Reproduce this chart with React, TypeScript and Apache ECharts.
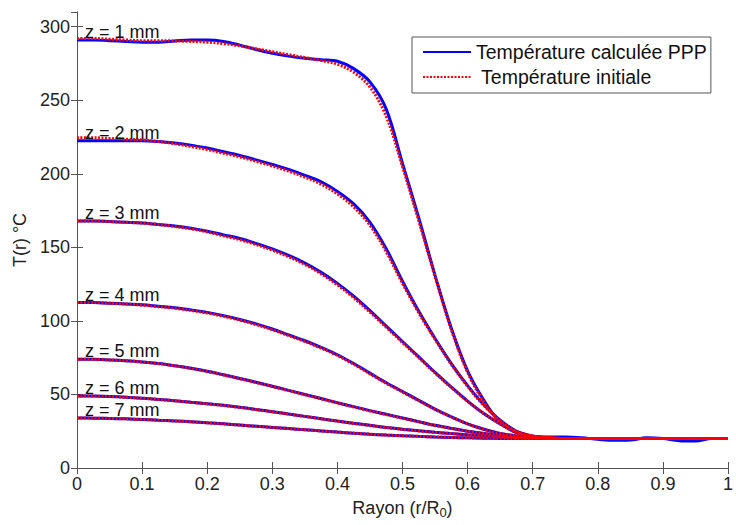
import React, { useEffect, useRef } from "react";
import * as echarts from "echarts";

const R = [0, 0.025, 0.05, 0.075, 0.1, 0.125, 0.15, 0.175, 0.2, 0.225, 0.25, 0.275, 0.3, 0.325, 0.35, 0.375, 0.4, 0.425, 0.45, 0.475, 0.5, 0.525, 0.55, 0.575, 0.6, 0.625, 0.65, 0.675, 0.7, 0.725, 0.75, 0.775, 0.8, 0.825, 0.85, 0.875, 0.9, 0.925, 0.95, 0.975, 1.0];

// Température calculée PPP (blue)
const B1 = [291, 291, 290.5, 290, 289.5, 289.5, 290.3, 291, 291, 290, 287.5, 284.5, 282, 280, 278.5, 277.5, 276.5, 271.5, 262.5, 244, 207, 170, 131, 95, 66, 46, 31, 24, 21.5, 21, 21, 20.5, 19.5, 18.8, 19, 20.5, 20, 18.5, 18.3, 20, 20];
const B2 = [222.5, 222.5, 222.5, 222.5, 222.5, 222, 221, 219.5, 217.5, 215, 212.5, 209.5, 206.3, 203, 199, 194.5, 188, 179.5, 167, 149, 127, 106.5, 88, 71, 56, 43, 32.5, 25, 21.8, 20.6, 20, 20, 20, 20, 20, 20, 20, 20, 20, 20, 20];
const B3 = [168, 168, 167.5, 167, 166.5, 165.5, 164.5, 163, 161, 158.5, 156, 152.7, 149, 144.5, 139.3, 133, 125.5, 116.8, 107, 96.5, 86, 75.5, 65, 55, 45.5, 37, 30, 24.5, 21.5, 20.5, 20, 20, 20, 20, 20, 20, 20, 20, 20, 20, 20];
const B4 = [112.5, 112.5, 112, 111.5, 111, 110, 109, 107.5, 105.8, 103.6, 101, 98, 94.5, 90.5, 86.5, 82, 77, 71, 64.5, 58, 52, 46, 40, 34.8, 30, 26.3, 23.5, 21.8, 20.9, 20.4, 20, 20, 20, 20, 20, 20, 20, 20, 20, 20, 20];
const B5 = [74, 73.9, 73.5, 72.9, 72.1, 71, 69.5, 67.8, 65.8, 63.4, 60.9, 58.3, 55.6, 52.8, 50, 47.2, 44.4, 41.7, 39, 36.5, 34, 31.5, 29, 26.9, 25, 23.5, 22.3, 21.4, 20.7, 20.3, 20, 20, 20, 20, 20, 20, 20, 20, 20, 20, 20];
const B6 = [49, 48.9, 48.6, 48.1, 47.4, 46.6, 45.7, 44.7, 43.7, 42.6, 41.3, 39.8, 38.3, 36.7, 35.1, 33.5, 31.9, 30.4, 29, 27.6, 26.4, 25.3, 24.3, 23.4, 22.6, 21.9, 21.3, 20.8, 20.4, 20.1, 20, 20, 20, 20, 20, 20, 20, 20, 20, 20, 20];
const B7 = [34, 33.9, 33.7, 33.4, 33, 32.5, 32, 31.4, 30.7, 30, 29.2, 28.4, 27.6, 26.8, 26, 25.2, 24.4, 23.7, 23, 22.4, 21.9, 21.5, 21.1, 20.8, 20.5, 20.3, 20.1, 20, 20, 20, 20, 20, 20, 20, 20, 20, 20, 20, 20, 20, 20];

// Température initiale (red dotted)
const I1 = [292, 292, 291.5, 291, 290.5, 290.5, 290.3, 290, 289.5, 288.5, 287, 285, 283, 281, 279, 277, 274.5, 269, 259, 239, 205, 168, 130, 94, 65, 45, 31, 24, 21.5, 20.5, 20, 20, 20, 20, 20, 20, 20, 20, 20, 20, 20];
const I2 = [224.5, 224.5, 224, 223.5, 223, 222, 220.5, 218.5, 216.5, 214, 211.5, 208.5, 205.3, 201.8, 197.7, 193, 186.3, 177.5, 165, 147, 125.5, 105.5, 87.5, 70.5, 55.5, 42.5, 32.3, 25, 21.8, 20.6, 20, 20, 20, 20, 20, 20, 20, 20, 20, 20, 20];
const I3 = [168, 168, 167.5, 167, 166.5, 165.5, 164.2, 162.6, 160.5, 157.8, 155.2, 151.9, 148.1, 143.6, 138.4, 132, 124.5, 115.8, 106, 95.7, 85.3, 75, 64.6, 54.7, 45.3, 36.9, 30, 24.5, 21.5, 20.5, 20, 20, 20, 20, 20, 20, 20, 20, 20, 20, 20];
const I4 = [112.5, 112.5, 112, 111.5, 110.7, 109.7, 108.6, 107.1, 105.4, 103.1, 100.5, 97.5, 94, 90, 86, 81.5, 76.5, 70.5, 64, 57.6, 51.6, 45.7, 39.8, 34.7, 30, 26.3, 23.5, 21.8, 20.9, 20.4, 20, 20, 20, 20, 20, 20, 20, 20, 20, 20, 20];
const I5 = [74, 73.9, 73.5, 72.9, 72.1, 71, 69.5, 67.7, 65.6, 63.2, 60.7, 58.1, 55.4, 52.6, 49.8, 47, 44.2, 41.5, 38.8, 36.3, 33.8, 31.4, 28.9, 26.9, 25, 23.5, 22.3, 21.4, 20.7, 20.3, 20, 20, 20, 20, 20, 20, 20, 20, 20, 20, 20];
const I6 = [49, 48.9, 48.6, 48.1, 47.4, 46.6, 45.7, 44.7, 43.6, 42.5, 41.2, 39.7, 38.2, 36.6, 35, 33.4, 31.8, 30.3, 28.9, 27.5, 26.3, 25.2, 24.2, 23.4, 22.6, 21.9, 21.3, 20.8, 20.4, 20.1, 20, 20, 20, 20, 20, 20, 20, 20, 20, 20, 20];
const I7 = [34, 33.9, 33.7, 33.4, 33, 32.5, 32, 31.4, 30.7, 30, 29.2, 28.4, 27.6, 26.8, 26, 25.2, 24.4, 23.7, 23, 22.4, 21.9, 21.5, 21.1, 20.8, 20.5, 20.3, 20.1, 20, 20, 20, 20, 20, 20, 20, 20, 20, 20, 20, 20, 20, 20];

const Z_LABELS = ["z = 1 mm", "z = 2 mm", "z = 3 mm", "z = 4 mm", "z = 5 mm", "z = 6 mm", "z = 7 mm"];
const CALC = "Température calculée PPP";
const INIT = "Température initiale";
const X_NAME = "Rayon (r/R{sub|0})";
const Y_NAME = "T(r) °C";

const BLUE = [B1, B2, B3, B4, B5, B6, B7];
const RED = [I1, I2, I3, I4, I5, I6, I7];

const FONT = '"Liberation Sans", Arial, Helvetica, sans-serif';
const AX = "#555";

export default function App() {
  const ref = useRef<HTMLDivElement>(null);
  useEffect(() => {
    if (!ref.current) return;
    const chart = echarts.init(ref.current, null, { renderer: "svg" });
    const pairs = (ys: number[]) => ys.map((y, i) => [R[i], y]);
    const blueSeries = BLUE.map((ys, k) => ({
      name: CALC,
      type: "line",
      xAxisIndex: 0,
      yAxisIndex: 0,
      data: pairs(ys),
      symbol: "none",
      smooth: 0.35,
      lineStyle: { color: "#0000ff", width: 3 },
      itemStyle: { color: "#0000ff" },
      z: 2,
      markPoint: {
        symbol: "circle",
        symbolSize: 0,
        silent: true,
        data: [{ coord: [R[0], ys[0]] }],
        label: {
          show: true,
          position: "right",
          distance: 5,
          offset: [3, -8],
          formatter: Z_LABELS[k],
          fontSize: 18,
          fontFamily: FONT,
          color: "#111",
        },
      },
    }));
    const redSeries = RED.map((ys) => ({
      name: INIT,
      type: "line",
      xAxisIndex: 0,
      yAxisIndex: 0,
      data: pairs(ys),
      symbol: "none",
      smooth: 0.35,
      lineStyle: { color: "#ff0000", width: 3, type: [2, 1.5], cap: "butt" },
      itemStyle: { color: "#ff0000" },
      z: 3,
    }));
    const common = {
      type: "value",
      axisLine: { show: true, lineStyle: { color: AX, width: 1 } },
      axisTick: { show: true, inside: true, length: 6, lineStyle: { color: AX } },
      splitLine: { show: false },
    };
    chart.setOption({
      animation: false,
      backgroundColor: "#fff",
      grid: { left: 77, right: 2, top: 12, bottom: 57, containLabel: false },
      legend: {
        data: [CALC, INIT],
        orient: "vertical",
        left: 412,
        top: 37,
        padding: [5, 4, 6, 10],
        itemGap: 5,
        itemWidth: 48,
        itemHeight: 14,
        borderColor: AX,
        borderWidth: 1,
        backgroundColor: "#fff",
        selectedMode: false,
        itemStyle: { opacity: 0 },
        formatter: (n: string) => (n === INIT ? " " + n : n),
        textStyle: { fontSize: 19.5, fontFamily: FONT, color: "#111" },
      },
      xAxis: [
        {
          ...common,
          min: 0,
          max: 1,
          interval: 0.1,
          position: "bottom",
          axisLabel: { margin: 7, fontSize: 18, fontFamily: FONT, color: "#222" },
          name: X_NAME,
          nameLocation: "middle",
          nameGap: 28,
          nameTextStyle: {
            fontSize: 18,
            fontFamily: FONT,
            color: "#222",
            rich: { sub: { fontSize: 13, fontFamily: FONT, color: "#222", verticalAlign: "bottom", padding: [10, 0, 0, 0] } },
          },
        },
        {
          ...common,
          min: 0,
          max: 1,
          interval: 0.1,
          position: "top",
          axisLabel: { show: false },
        },
      ],
      yAxis: [
        {
          ...common,
          min: 0,
          max: 310,
          interval: 50,
          position: "left",
          axisLabel: { margin: 7, fontSize: 18, fontFamily: FONT, color: "#222", showMaxLabel: false },
          name: Y_NAME,
          nameLocation: "middle",
          nameGap: 48,
          nameRotate: 90,
          nameTextStyle: { fontSize: 18, fontFamily: FONT, color: "#222" },
        },
        {
          ...common,
          min: 0,
          max: 310,
          interval: 50,
          position: "right",
          axisLabel: { show: false },
        },
      ],
      series: [...blueSeries, ...redSeries],
    });
    return () => chart.dispose();
  }, []);
  return (
    <div
      ref={ref}
      style={{ position: "fixed", left: 0, top: 0, width: 736, height: 525, background: "#fff" }}
    />
  );
}
